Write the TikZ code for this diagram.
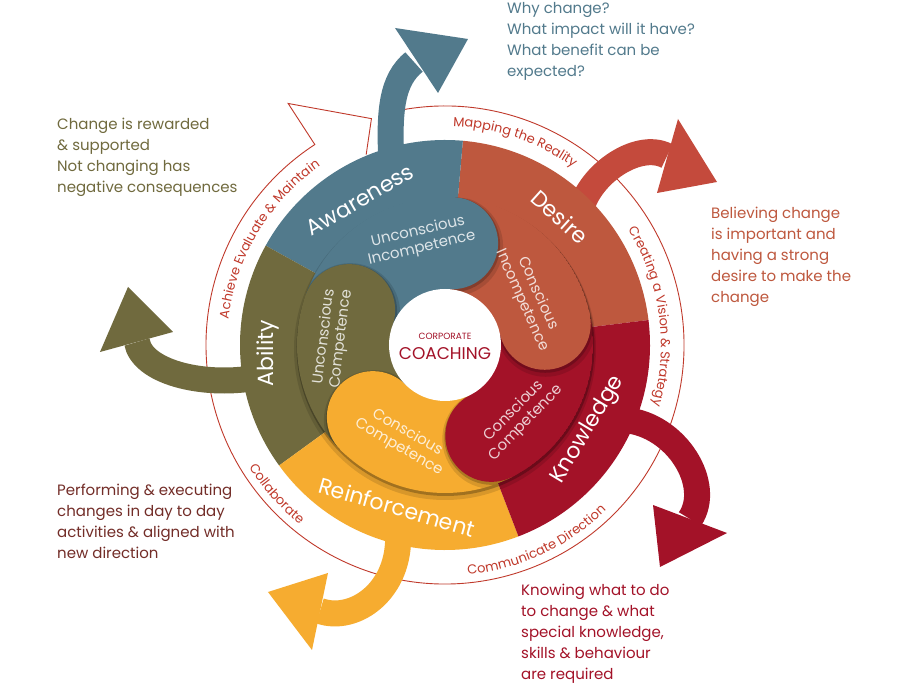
\documentclass[tikz,border=0pt]{standalone}
\usepackage{fontspec}
\setmainfont{Poppins}
\usetikzlibrary{decorations.text}
\definecolor{awareC}{RGB}{82,122,140}
\definecolor{desireC}{RGB}{190,88,62}
\definecolor{knowC}{RGB}{163,18,40}
\definecolor{reinfC}{RGB}{246,172,48}
\definecolor{abilC}{RGB}{112,106,62}
\definecolor{ringred}{RGB}{192,57,43}
\definecolor{arrowred}{RGB}{196,74,60}
\definecolor{perfC}{RGB}{115,45,40}
\newcommand{\setfs}[2]{\fontsize{#1}{#2}\selectfont}

\begin{document}
\begin{tikzpicture}[x=1pt,y=1pt,
  seglbl/.style={text=white,font=\setfs{22}{24}},
  blobtxt/.style={text=white,text opacity=.8,align=center,font=\setfs{15}{17}},
  sidetxt/.style={anchor=north west,inner sep=0pt,align=left,font=\setfs{15}{21}},
  shaft/.style={line width=26pt},
  ringtxt/.style={decorate,decoration={text along path,text align=center,text color=ringred,text={|\setfs{13}{13}|#1}}}]
  \useasboundingbox (-445,-355) rectangle (455,345);
  \fill[white] (-445,-355) rectangle (455,345);

  % thin circle ending in an open head
  \draw[ringred,line width=0.9pt] (102:239) arc[start angle=102,end angle=-237,radius=239]
    -- (123:288) -- (108:238) -- (112.5:206);

  % big curved arrows
  \draw[awareC,shaft] (-53,175) .. controls (-57,235) and (-53,265) .. (-31,283);
  \fill[awareC] (-50,317) -- (23,306) -- (-7,252) -- cycle;
  \draw[arrowred,shaft] (135,130) .. controls (140,168) and (192,205) .. (222,189);
  \fill[arrowred] (233,226) -- (272,163) -- (212,152) -- cycle;
  \draw[knowC,shaft] (180,-75) .. controls (232,-80) and (268,-140) .. (245,-174);
  \fill[knowC] (208,-160) -- (215,-222) -- (282,-188) -- cycle;
  \draw[reinfC,shaft] (-47,-188) .. controls (-44,-245) and (-90,-278) .. (-125,-266);
  \fill[reinfC] (-117,-228) -- (-177,-247) -- (-133,-305) -- cycle;
  \draw[abilC,shaft] (-190,-33) .. controls (-245,-42) and (-303,-26) .. (-308,3);
  \fill[abilC] (-345,-7) -- (-317,58) -- (-272,13) -- cycle;

  % texts along the thin circle
  \path[ringtxt={Mapping the Reality}] (95:219) arc[start angle=95,end angle=47,radius=219];
  \path[ringtxt={Creating a Vision {\&} Strategy}] (52:216) arc[start angle=52,end angle=-36,radius=216];
  \path[ringtxt={Communicate Direction}] (-105:231) arc[start angle=-105,end angle=-25,radius=231];
  \path[ringtxt={Collaborate}] (195:231) arc[start angle=195,end angle=248,radius=231];
  \path[ringtxt={Achieve Evaluate {\&} Maintain}] (188:218) arc[start angle=188,end angle=110,radius=218];

  % outer ring
  \foreach \a/\b/\c in {7/85/desireC,85/151/awareC,151/216/abilC,216/291/reinfC,291/367/knowC}
    \fill[\c] (0,0) -- (\a:205) arc[start angle=\a,end angle=\b,radius=205] -- cycle;
  \fill[black,opacity=.12] (0,-4) circle[radius=151];
  \fill[black,opacity=.25] (0.5,-2) circle[radius=149];

  % inner ring
  \begin{scope}
    \clip (0,0) circle[radius=148];
    \foreach \a/\b/\c in {86/160/awareC,12/86/desireC,-63/12/knowC,-135/-63/reinfC,160/225/abilC}
      \fill[\c] (0,0) -- (\a:148) arc[start angle=\a,end angle=\b,radius=148] -- cycle;
    \foreach \a/\c in {86/awareC,12/desireC,-63/knowC,-135/reinfC,160/abilC}{
      \begin{scope}
        \clip (0,0) -- (\a:150) arc[start angle=\a,end angle=\a-45,radius=150] -- cycle;
        \fill[black,opacity=.12] (\a:102) ++(1,-3) circle[radius=50];
        \fill[black,opacity=.2] (\a:102) ++(0.5,-1.5) circle[radius=47.5];
      \end{scope}
      \fill[\c] (\a:102) circle[radius=46];
    }
  \end{scope}
  \fill[white] (0,0) circle[radius=56];

  % labels
  \node[seglbl,rotate=30] (aware) at (-85,145) {Awareness};
  \node[seglbl,rotate=-42] (desire) at (115,128) {Desire};
  \node[seglbl,rotate=59] (know) at (143,-85) {Knowledge};
  \node[seglbl,rotate=-16] (reinf) at (-48,-162) {Reinforcement};
  \node[seglbl,rotate=90] (abil) at (-177,-8) {Ability};

  \node[blobtxt,rotate=13] (uninc) at (-25,105) {Unconscious\\Incompetence};
  \node[blobtxt,rotate=-66] (coninc) at (85,48) {Conscious\\Incompetence};
  \node[blobtxt,rotate=46] (concomp) at (75,-72) {Conscious\\Competence};
  \node[blobtxt,rotate=-30] (concompb) at (-42,-95) {Conscious\\Competence};
  \node[blobtxt,rotate=83] (uncomp) at (-112,7) {Unconscious\\Competence};

  \node[knowC,font=\setfs{9}{9}] (corp) at (0,9) {CORPORATE};
  \node[knowC,font=\setfs{17}{17}] (coach) at (0,-9) {COACHING};

  \node[sidetxt,text=awareC] (why) at (62,343) {Why change?\\What impact will it have?\\What benefit can be\\expected?};
  \node[sidetxt,text=abilC] (reward) at (-388,227) {Change is rewarded\\\& supported\\Not changing has\\negative consequences};
  \node[sidetxt,text=desireC] (believe) at (266,138) {Believing change\\is important and\\having a strong\\desire to make the\\change};
  \node[sidetxt,text=perfC] (perform) at (-388,-139) {Performing \& executing\\changes in day to day\\activities \& aligned with\\new direction};
  \node[sidetxt,text=knowC] (knowing) at (76,-239) {Knowing what to do\\to change \& what\\special knowledge,\\skills \& behaviour\\are required};
\end{tikzpicture}
\end{document}
